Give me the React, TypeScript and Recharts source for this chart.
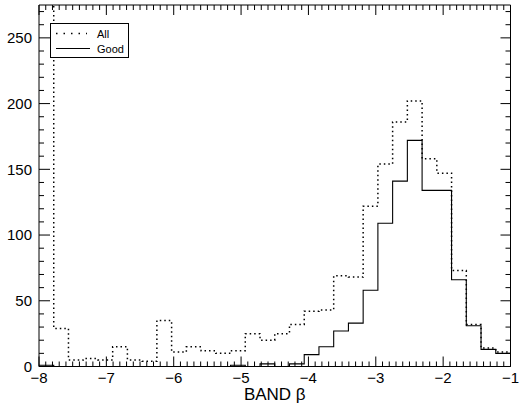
import { Legend, Line, LineChart, XAxis, YAxis } from "recharts";

// histogram of BAND beta, 32 bins from -8 to -1
const BIN_START = -8;
const BIN_END = -1;
const ALL_COUNTS = [
  400, 29, 5, 6, 5, 15, 5, 4, 35, 11, 15, 12, 10, 12, 25, 20,
  25, 32, 42, 43, 69, 68, 122, 154, 186, 202, 158, 147, 73, 32, 14, 11,
];
const GOOD_COUNTS = [
  1, 0, 0, 0, 0, 0, 0, 0, 0, 0, 0, 0, 0, 1, 0, 2,
  0, 2, 9, 15, 27, 33, 58, 109, 141, 172, 134, 134, 66, 31, 13, 10,
];

const X_MAJOR = [-8, -7, -6, -5, -4, -3, -2, -1];
const Y_MAJOR = [0, 50, 100, 150, 200, 250];
const X_MINOR_STEP = 0.1;
const Y_MINOR_STEP = 10;

const FONT = "'Liberation Sans', Arial, Helvetica, sans-serif";

const binWidth = (BIN_END - BIN_START) / ALL_COUNTS.length;
const data = ALL_COUNTS.map((all, i) => ({
  x: BIN_START + i * binWidth,
  all,
  good: GOOD_COUNTS[i],
}));
// close last step at the right edge
data.push({
  x: BIN_END,
  all: ALL_COUNTS[ALL_COUNTS.length - 1],
  good: GOOD_COUNTS[GOOD_COUNTS.length - 1],
});

const xTicks: number[] = [];
for (let i = 0; i <= Math.round((BIN_END - BIN_START) / X_MINOR_STEP); i++) {
  xTicks.push(+(BIN_START + i * X_MINOR_STEP).toFixed(2));
}
const yTicks: number[] = [];
for (let v = 0; v <= 270; v += Y_MINOR_STEP) yTicks.push(v);

const isMajorX = (v: number) => X_MAJOR.some((m) => Math.abs(m - v) < 1e-6);
const isMajorY = (v: number) => Y_MAJOR.includes(v);
const fmt = (v: number) => (v < 0 ? "\u2212" + Math.abs(v) : String(v));

function BottomTick({ x, y, payload }: any) {
  const major = isMajorX(payload.value);
  return (
    <g>
      <line x1={x} x2={x} y1={y} y2={y - (major ? 10 : 5)} stroke="#000" />
      {major && (
        <text x={x} y={y + 16.5} textAnchor="middle" fontSize={15} fontFamily={FONT} fill="#000">
          {fmt(payload.value)}
        </text>
      )}
    </g>
  );
}

function TopTick({ x, y, payload }: any) {
  const major = isMajorX(payload.value);
  return <line x1={x} x2={x} y1={y} y2={y + (major ? 10 : 5)} stroke="#000" />;
}

function LeftTick({ x, y, payload }: any) {
  const major = isMajorY(payload.value);
  return (
    <g>
      <line x1={x} x2={x + (major ? 11 : 5)} y1={y} y2={y} stroke="#000" />
      {major && (
        <text x={x - 7} y={y} dy="0.36em" textAnchor="end" fontSize={15} fontFamily={FONT} fill="#000">
          {payload.value}
        </text>
      )}
    </g>
  );
}

function RightTick({ x, y, payload }: any) {
  const major = isMajorY(payload.value);
  return <line x1={x} x2={x - (major ? 10 : 5)} y1={y} y2={y} stroke="#000" />;
}

function LegendBox() {
  return (
    <div
      style={{
        width: 79,
        height: 35,
        border: "1px solid #000",
        boxSizing: "border-box",
        background: "#fff",
      }}
    >
      <svg width={77} height={33} style={{ display: "block" }}>
        <line x1={5} x2={36} y1={9.5} y2={9.5} stroke="#000" strokeWidth={1.5} strokeDasharray="1.5 6" />
        <text x={46} y={13.5} fontSize={11} fontFamily={FONT} fill="#000">All</text>
        <line x1={5} x2={39} y1={24.5} y2={24.5} stroke="#000" strokeWidth={1} />
        <text x={46} y={28.5} fontSize={11} fontFamily={FONT} fill="#000">Good</text>
      </svg>
    </div>
  );
}

export default function App() {
  return (
    <div style={{ position: "absolute", left: 0, top: 0, width: 520, height: 411, background: "#fff" }}>
      <LineChart
        width={520}
        height={411}
        data={data}
        margin={{ top: 0, right: 0, bottom: 0, left: 0 }}
      >
        <XAxis
          dataKey="x"
          type="number"
          domain={[BIN_START, BIN_END]}
          ticks={xTicks}
          interval={0}
          height={44.5}
          tickSize={0}
          tickMargin={0}
          tickLine={false}
          tick={<BottomTick />}
          axisLine={{ stroke: "#000" }}
          label={{ value: "BAND \u03b2", position: "insideTop", offset: 21, fontSize: 17, fontFamily: FONT, fill: "#000" }}
        />
        <XAxis
          xAxisId="top"
          orientation="top"
          dataKey="x"
          type="number"
          domain={[BIN_START, BIN_END]}
          ticks={xTicks}
          interval={0}
          height={5}
          tickSize={0}
          tickMargin={0}
          tickLine={false}
          tick={<TopTick />}
          axisLine={{ stroke: "#000" }}
        />
        <YAxis
          type="number"
          domain={[0, 275]}
          allowDataOverflow
          ticks={yTicks}
          interval={0}
          width={39}
          tickSize={0}
          tickMargin={0}
          tickLine={false}
          tick={<LeftTick />}
          axisLine={{ stroke: "#000" }}
        />
        <YAxis
          yAxisId="right"
          orientation="right"
          type="number"
          domain={[0, 275]}
          allowDataOverflow
          ticks={yTicks}
          interval={0}
          width={9.5}
          tickSize={0}
          tickMargin={0}
          tickLine={false}
          tick={<RightTick />}
          axisLine={{ stroke: "#000" }}
        />
        <Line
          dataKey="all"
          name="All"
          type="stepAfter"
          stroke="#000"
          strokeWidth={1.5}
          strokeDasharray="1.5 3"
          dot={false}
          activeDot={false}
          isAnimationActive={false}
        />
        <Line
          dataKey="good"
          name="Good"
          type="stepAfter"
          stroke="#000"
          strokeWidth={1.1}
          dot={false}
          activeDot={false}
          isAnimationActive={false}
        />
        <Legend
          layout="horizontal"
          verticalAlign="middle"
          align="center"
          wrapperStyle={{ position: "absolute", left: 50, top: 23, width: 79, height: 35 }}
          content={<LegendBox />}
        />
      </LineChart>
    </div>
  );
}
